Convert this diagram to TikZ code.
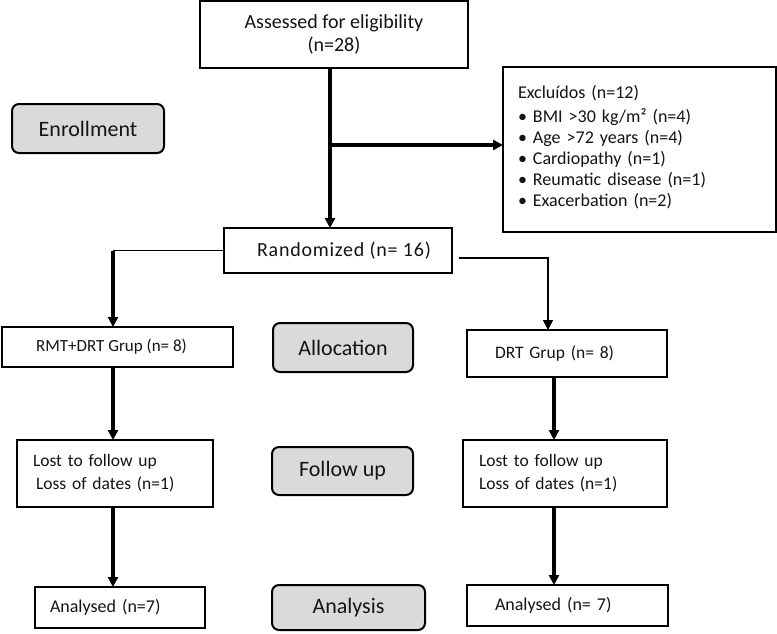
\documentclass[tikz,border=0pt]{standalone}
\usepackage{fontspec}
\setmainfont{Carlito}
\usetikzlibrary{arrows.meta}
\definecolor{txt}{RGB}{20,20,20}
\definecolor{stagefill}{RGB}{218,218,218}
\tikzset{
  box/.style={draw=black, line width=2.8pt, fill=white, text=txt, inner sep=0pt, outer sep=0pt, anchor=center},
  stage/.style={draw=black, line width=2pt, fill=stagefill, rounded corners=7pt, text=txt, inner sep=0pt, outer sep=0pt, font=\fontsize{22}{25}\selectfont},
  thickarr/.style={line width=3.2pt, -{Triangle[width=10pt,length=10pt]}},
  thinarr/.style={line width=1.6pt, -{Triangle[width=10pt,length=10pt]}},
  thinline/.style={line width=1.4pt},
}
\begin{document}
\begin{tikzpicture}[x=1pt,y=-1pt]
\useasboundingbox (0,0) rectangle (777,633);
% main boxes
\node[box, minimum width=268pt, minimum height=67pt, align=center, font=\fontsize{20}{23}\selectfont] (assess) at (334,34.5) {Assessed for eligibility\\(n=28)};
\node[box, text width=243pt, inner xsep=15pt, minimum height=165pt, align=left, font=\fontsize{18}{21}\selectfont] (excl) at (639.5,149.5)
  {Excluídos (n=12)\\[3pt]\textbullet\ BMI >30 kg/m² (n=4)\\\textbullet\ Age >72 years (n=4)\\\textbullet\ Cardiopathy (n=1)\\\textbullet\ Reumatic disease (n=1)\\\textbullet\ Exacerbation (n=2)\\[-14pt]\mbox{}};
\node[stage, minimum width=152pt, minimum height=49pt] (enroll) at (88,128.5) {Enrollment};
\node[box, minimum width=228pt, minimum height=45pt, font=\fontsize{20}{23}\selectfont\addfontfeature{LetterSpace=3.8}] (rand) at (338,250.5) {\hspace*{12pt}Randomized (n= 16)};
\node[box, minimum width=231pt, minimum height=40pt, font=\fontsize{17}{20}\selectfont] (rmt) at (117.5,347) {RMT+DRT Grup (n= 8)\hspace*{12pt}};
\node[stage, minimum width=140pt, minimum height=49pt] (alloc) at (343,347.5) {Allocation};
\node[box, text width=144pt, inner xsep=28pt, minimum height=47pt, align=left, font=\fontsize{17.5}{20}\selectfont] (drt) at (567,353.5) {DRT Grup (n= 8)};
\node[box, text width=164pt, inner xsep=16pt, minimum height=67pt, align=left, font=\fontsize{17.5}{23}\selectfont] (lostL) at (115,473.5) {Lost to follow up\\\hspace*{3pt}Loss of dates (n=1)};
\node[stage, minimum width=141pt, minimum height=48pt] (follow) at (342.5,471) {Follow up};
\node[box, text width=172pt, inner xsep=16pt, minimum height=67pt, align=left, font=\fontsize{17.5}{23}\selectfont] (lostR) at (565,473.5) {Lost to follow up\\Loss of dates (n=1)};
\node[box, text width=140pt, inner xsep=15pt, minimum height=41pt, align=left, font=\fontsize{18}{20}\selectfont] (anL) at (120,607.5) {Analysed (n=7)};
\node[stage, minimum width=153pt, minimum height=45pt] (analysis) at (348.5,607.5) {Analysis};
\node[box, text width=145pt, inner xsep=28pt, minimum height=41pt, align=left, font=\fontsize{18}{20}\selectfont] (anR) at (567.5,605.5) {Analysed (n= 7)};
% connectors
\draw[thickarr] ([xshift=-4pt]assess.south) -- ([xshift=-4pt]assess.south |- rand.north);
\draw[thickarr] ([xshift=-4pt]assess.south |- 0,145) -- ([yshift=4.5pt]excl.west);
\draw[thinline] (rand.west) -- (113,250.5);
\draw[thickarr] (113,250.5) -- (113,250.5 |- rmt.north);
\draw[thinarr] ([xshift=7pt,yshift=-7.5pt]rand.east) -- (548,258) -- (548,258 |- drt.north);
\draw[thickarr] (rmt.south -| 113,0) -- (lostL.north -| 113,0);
\draw[thickarr] (drt.south -| 554,0) -- (lostR.north -| 554,0);
\draw[thickarr] (lostL.south -| 113,0) -- (anL.north -| 113,0);
\draw[thickarr] (lostR.south -| 554,0) -- (anR.north -| 554,0);
\end{tikzpicture}
\end{document}
